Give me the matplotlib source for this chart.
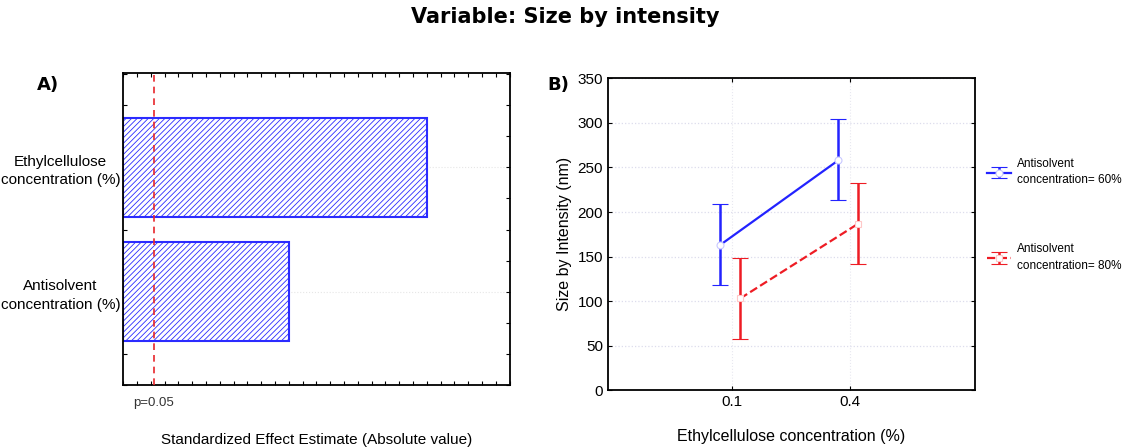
import matplotlib
matplotlib.use("Agg")
import matplotlib.pyplot as plt
from matplotlib.ticker import MultipleLocator

plt.rcParams['font.family'] = ['Liberation Sans', 'DejaVu Sans']
plt.rcParams['hatch.linewidth'] = 0.6

# Pareto chart data (A)
factors = ["Antisolvent\nconcentration (%)", "Ethylcellulose\nconcentration (%)"]
effects = [15.0, 27.5]
p_limit = 2.776

# interaction plot data (B)
ec_levels = ["0.1", "0.4"]
mean_60 = [163, 258]
low_60 = [118, 213]
high_60 = [209, 304]
mean_80 = [103, 187]
low_80 = [58, 142]
high_80 = [148, 233]

fig = plt.figure(figsize=(11.3, 4.48), dpi=100)
fig.suptitle("Variable: Size by intensity", fontsize=15, fontweight='bold', y=0.985,
             family=['DejaVu Sans'])

# --- A) standardized effects ---
axA = fig.add_axes([0.109, 0.141, 0.342, 0.696])
ypos = list(range(len(factors)))
axA.barh(ypos, effects, height=0.8, color='white', edgecolor='#2b2bff',
         hatch='//////', linewidth=1.5, zorder=2)
axA.axvline(p_limit, color='#e8262b', ls=(0, (4, 3)), lw=1.2, zorder=3)
axA.set_xlim(0, 35)
axA.set_ylim(-0.75, 1.76)
axA.set_yticks(ypos)
axA.set_yticklabels(factors, fontsize=11, multialignment='center', linespacing=1.4)
axA.xaxis.set_major_locator(MultipleLocator(5))
axA.xaxis.set_minor_locator(MultipleLocator(1.25))
axA.yaxis.set_minor_locator(MultipleLocator(0.25))
axA.set_xticklabels([])
axA.tick_params(which='both', direction='in', top=True, right=True, length=3, width=0.8)
axA.tick_params(axis='y', which='major', length=3, pad=2)
axA.grid(axis='y', color='#e6e6e6', ls=':', lw=0.8, zorder=0)
for s in axA.spines.values():
    s.set_linewidth(1.3)
axA.text(p_limit, -0.04, "p=0.05", transform=axA.get_xaxis_transform(),
         ha='center', va='top', fontsize=9.5, color='#333333')
axA.set_xlabel("Standardized Effect Estimate (Absolute value)", fontsize=11, labelpad=31)
fig.text(0.033, 0.80, "A)", fontsize=13, fontweight='bold', family=['DejaVu Sans'])

# --- B) interaction plot ---
axB = fig.add_axes([0.538, 0.129, 0.325, 0.696])
x = [0, 1]
x60 = [v - 0.1 for v in x]
x80 = [v + 0.07 for v in x]
err60 = [[m - l for m, l in zip(mean_60, low_60)], [h - m for m, h in zip(mean_60, high_60)]]
err80 = [[m - l for m, l in zip(mean_80, low_80)], [h - m for m, h in zip(mean_80, high_80)]]
blue = '#2323ff'
red = '#ee1c24'
h60 = axB.errorbar(x60, mean_60, yerr=err60, color=blue, lw=1.6, elinewidth=1.8,
                   capsize=6, capthick=1.8,
                   marker='o', ms=5, mfc='white', mec='#c8c8ff', mew=0.8,
                   label="Antisolvent\nconcentration= 60%", zorder=3)
h80 = axB.errorbar(x80, mean_80, yerr=err80, color=red, lw=1.6, elinewidth=1.8,
                   capsize=6, capthick=1.8,
                   ls='--', marker='s', ms=5, mfc='white', mec='#ffc8c8', mew=0.8,
                   label="Antisolvent\nconcentration= 80%", zorder=3)
axB.set_xlim(-1.05, 2.06)
axB.set_ylim(0, 350)
axB.set_xticks(x)
axB.set_xticklabels(ec_levels, fontsize=11)
axB.set_yticks(range(0, 351, 50))
axB.tick_params(axis='y', labelsize=11)
axB.tick_params(which='both', direction='in', top=True, right=True, length=3, width=0.8)
axB.grid(axis='y', color='#dcdcec', ls=':', lw=0.9, zorder=0)
axB.grid(axis='x', color='#e8e8f0', ls=':', lw=0.8, zorder=0)
for s in axB.spines.values():
    s.set_linewidth(1.3)
axB.set_ylabel("Size by Intensity (nm)", fontsize=11.5)
axB.set_xlabel("Ethylcellulose concentration (%)", fontsize=11.5, labelpad=14)
leg = axB.legend(handles=[h60, h80], loc='upper left', bbox_to_anchor=(1.02, 0.76),
                 frameon=False, fontsize=8.5, handlelength=2.0, handletextpad=0.5,
                 labelspacing=4.8, borderaxespad=0)
for t in leg.get_texts():
    t.set_linespacing(1.5)
fig.text(0.484, 0.80, "B)", fontsize=13, fontweight='bold', family=['DejaVu Sans'])

fig.savefig("out.png", dpi=100)
